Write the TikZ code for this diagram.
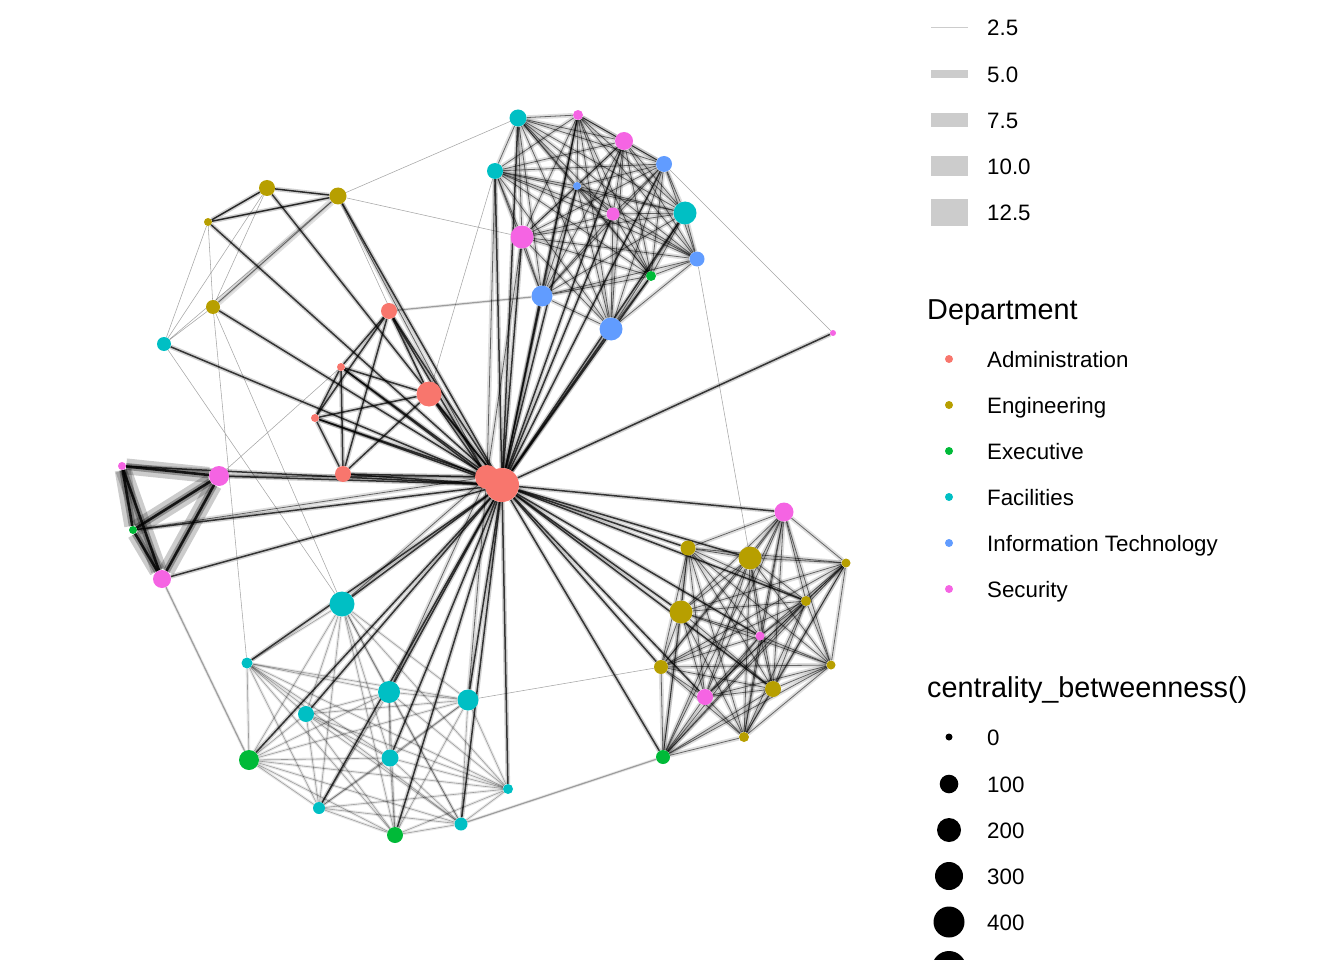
\documentclass[tikz,border=0pt]{standalone}
\usepackage{fontspec}
\setmainfont{Liberation Sans}
\usetikzlibrary{backgrounds}
\definecolor{adm}{HTML}{F8766D}
\definecolor{eng}{HTML}{B79F00}
\definecolor{exe}{HTML}{00BA38}
\definecolor{fac}{HTML}{00BFC4}
\definecolor{itc}{HTML}{619CFF}
\definecolor{sec}{HTML}{F564E3}
\definecolor{lg}{HTML}{CCCCCC}
\newcommand\gnode[5]{\node[vtx,fill=#4,minimum size=#5pt] (#1) at (#2,#3) {};}
\newcommand\myclique[2]{\foreach \u [count=\i] in {#2}{\foreach \v [count=\j] in {#2}{\ifnum\i<\j \draw[#1] (\u)--(\v);\fi}}}
\begin{document}
\begin{tikzpicture}[x=1pt,y=-1pt,
  vtx/.style={circle,inner sep=0pt,draw=none},
  cl/.style={preaction={draw=black,draw opacity=.13,line width=4.5pt},draw=black,draw opacity=.55,line width=.8pt},
  cllt/.style={preaction={draw=black,draw opacity=.09,line width=3pt},draw=black,draw opacity=.32,line width=.6pt},
  hb/.style={preaction={draw=black,draw opacity=.18,line width=4.5pt},draw=black,draw opacity=.75,line width=1.5pt},
  hv/.style={preaction={draw=black,draw opacity=.2,line width=16pt},postaction={draw=black,draw opacity=.3,line width=7pt},draw=black,draw opacity=.85,line width=2.6pt},
  lt/.style={draw=black,draw opacity=.35,line width=.55pt},
  lgt/.style={font=\fontsize{22.3}{26}\selectfont,anchor=base west,inner sep=0pt},
  ttl/.style={font=\fontsize{28.8}{33}\selectfont,anchor=base west,inner sep=0pt}]
\useasboundingbox (0,0) rectangle (1344,960);
% ---- nodes ----
% Administration
\gnode{a0}{487}{477}{adm}{24}
\gnode{a1}{502}{485}{adm}{34}
\gnode{a2}{429}{394}{adm}{25}
\gnode{a3}{389}{311}{adm}{16}
\gnode{a4}{341}{367}{adm}{8}
\gnode{a5}{315}{418}{adm}{8}
\gnode{a6}{343}{474}{adm}{16}
% Engineering
\gnode{e1}{267}{188}{eng}{16}
\gnode{e2}{338}{196}{eng}{17}
\gnode{e3}{208}{222}{eng}{8}
\gnode{e4}{213}{307}{eng}{14}
\gnode{e5}{688}{548}{eng}{15}
\gnode{e6}{750}{558}{eng}{23}
\gnode{e7}{681}{612}{eng}{23}
\gnode{e8}{806}{601}{eng}{10}
\gnode{e9}{846}{563}{eng}{9}
\gnode{e10}{831}{665}{eng}{9}
\gnode{e11}{773}{689}{eng}{16}
\gnode{e12}{744}{737}{eng}{10}
\gnode{e13}{661}{667}{eng}{14}
% Executive
\gnode{x1}{133}{530}{exe}{8}
\gnode{x2}{651}{276}{exe}{10}
\gnode{x3}{249}{760}{exe}{20}
\gnode{x4}{395}{835}{exe}{16}
\gnode{x5}{663}{757}{exe}{14}
% Facilities
\gnode{f1}{518}{118}{fac}{17}
\gnode{f2}{495}{171}{fac}{16}
\gnode{f3}{685}{213}{fac}{23}
\gnode{f4}{164}{344}{fac}{14}
\gnode{f5}{342}{604}{fac}{25}
\gnode{f6}{247}{663}{fac}{11}
\gnode{f7}{306}{714}{fac}{16}
\gnode{f8}{389}{692}{fac}{22}
\gnode{f9}{468}{700}{fac}{21}
\gnode{f10}{390}{758}{fac}{17}
\gnode{f11}{508}{789}{fac}{10}
\gnode{f12}{319}{808}{fac}{12}
\gnode{f13}{461}{824}{fac}{13}
% Information Technology
\gnode{i1}{577}{186}{itc}{8}
\gnode{i2}{664}{164}{itc}{16}
\gnode{i3}{697}{259}{itc}{15}
\gnode{i4}{542}{296}{itc}{21}
\gnode{i5}{611}{329}{itc}{23}
% Security
\gnode{s1}{578}{115}{sec}{10}
\gnode{s2}{624}{141}{sec}{18}
\gnode{s3}{613}{214}{sec}{13}
\gnode{s4}{522}{237}{sec}{23}
\gnode{s5}{833}{333}{sec}{6}
\gnode{s6}{122}{466}{sec}{8}
\gnode{s7}{219}{476}{sec}{20}
\gnode{s8}{162}{579}{sec}{18}
\gnode{s9}{784}{512}{sec}{19}
\gnode{s10}{760}{636}{sec}{9}
\gnode{s11}{705}{697}{sec}{16}
% ---- edges ----
\begin{scope}[on background layer]
% clusters
\myclique{cl}{f1,f2,s1,s2,i1,i2,s3,f3,i3,s4,x2,i4,i5}
\myclique{cl}{s9,e5,e6,e7,e8,e9,e10,e11,e12,e13,s10,s11,x5}
\myclique{cllt}{f5,f6,f7,f8,f9,f10,f11,f12,f13,x3,x4}
\myclique{hb}{a0,a2,a3,a4,a5,a6}
\myclique{lt}{e1,e2,e3,e4,f4}
\myclique{hv}{s6,s7,x1,s8}
\draw[hb] (e1)--(e2) (e2)--(e3) (e3)--(e1);
\draw[cllt,line width=1pt,preaction={draw=black,draw opacity=.12,line width=7pt}] (e2)--(e4);
% hub spokes
\foreach \n in {a2,a3,a4,a5,a6,e1,e2,e3,e4,f4,s6,s7,s8,x1,s5,
  f1,f2,s1,s2,i1,i2,s3,f3,s4,x2,i4,i5,
  f5,f6,f7,f8,f9,f10,f11,f12,f13,x3,x4,
  s9,e5,e6,e7,e8,e13,s11,x5,e11,s10}
  {\draw[hb] (a1)--(\n);}
\draw[hb] (a0)--(a1);
\foreach \n in {s7,x1,e2,f2,s4,f5,f8,f9}
  {\draw[cl] (a0)--(\n);}
% cross edges
\draw[lt] (e2)--(s4) (e2)--(f1) (i3)--(e6) (s5)--(i2)
  (f4)--(f5) (e4)--(f6) (f9)--(e13) (a2)--(f2) (e2)--(a2)
  (e4)--(f5) (s7)--(a4);
\draw[cllt,line width=1.2pt] (s8)--(x3) (x5)--(f13) (a3)--(i4);
\end{scope}
% ---- legend: weight ----
\fill[lg] (931,27.5) rectangle (968,28.5);
\fill[lg] (931,70) rectangle (968,78);
\fill[lg] (931,113) rectangle (968,127);
\fill[lg] (931,156) rectangle (968,176);
\fill[lg] (931,199) rectangle (968,226);
\node[lgt] (w1) at (987,36) {2.5};
\node[lgt] (w2) at (987,83) {5.0};
\node[lgt] (w3) at (987,129) {7.5};
\node[lgt] (w4) at (987,175) {10.0};
\node[lgt] (w5) at (987,221) {12.5};
% ---- legend: department ----
\node[ttl] (dt) at (927,319) {Department};
\foreach \c/\t/\y [count=\k] in {adm/Administration/359,eng/Engineering/405,exe/Executive/451,fac/Facilities/497,itc/Information Technology/543,sec/Security/589}{
  \node[vtx,fill=\c,minimum size=8pt] (dk\k) at (949,\y) {};
  \node[lgt] (dl\k) at (987,\y+8) {\t};
}
% ---- legend: size ----
\node[ttl] (ct) at (927,697) {centrality\_betweenness()};
\foreach \r/\t/\y [count=\k] in {3.5/0/737,9.3/100/784,12/200/830,14/300/876,15.5/400/922}{
  \node[vtx,fill=black,minimum size=2*\r pt] (sk\k) at (949,\y) {};
  \node[lgt] (sl\k) at (987,\y+8) {\t};
}
\node[vtx,fill=black,minimum size=34pt] (sk6) at (949,968) {};
\end{tikzpicture}
\end{document}
